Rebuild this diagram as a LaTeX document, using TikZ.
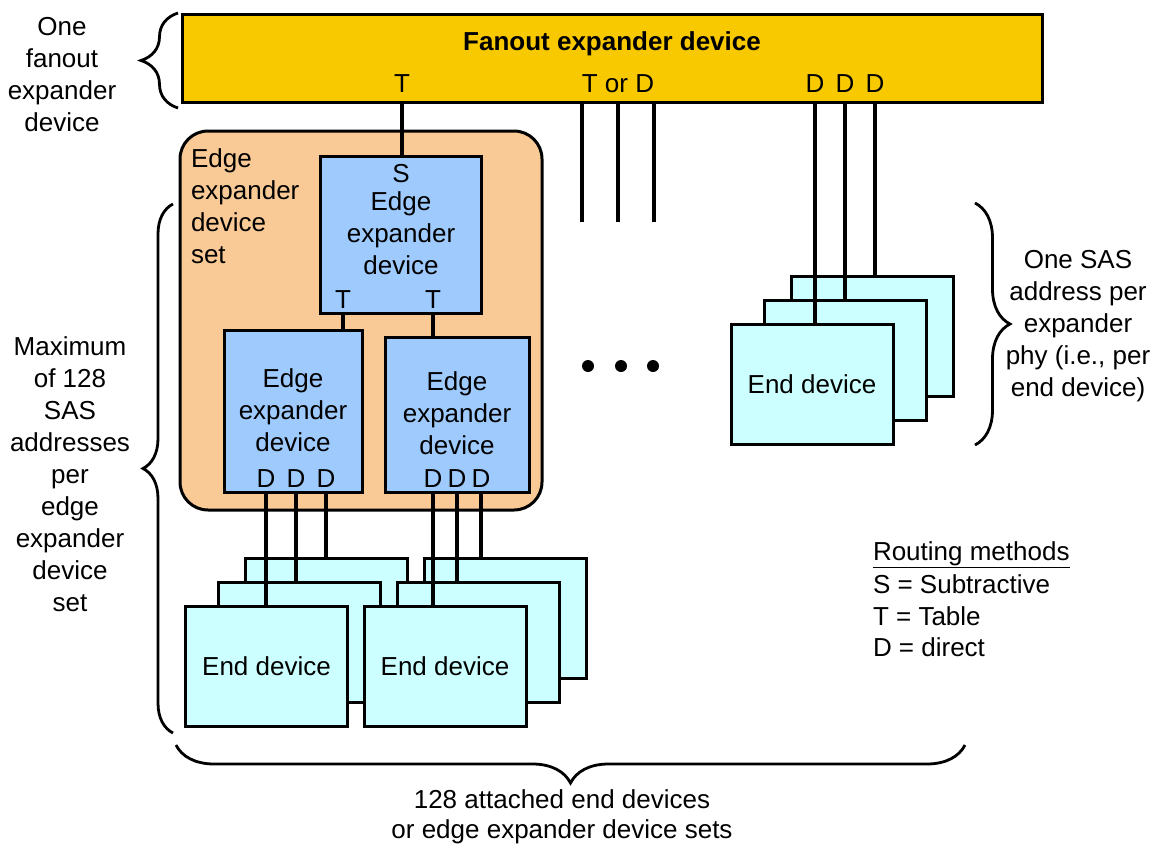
\documentclass[tikz,border=0pt]{standalone}
\usepackage{fontspec}
\setmainfont{Liberation Sans}
\usetikzlibrary{decorations.pathreplacing}
\definecolor{fanoutc}{HTML}{F9C900}
\definecolor{setc}{HTML}{F9CA96}
\definecolor{edgec}{HTML}{9ECAFE}
\definecolor{endc}{HTML}{CCFFFF}
\begin{document}
\begin{tikzpicture}[x=1pt,y=-1pt,
  every node/.style={inner sep=0pt, outer sep=0pt},
  txt/.style={font=\fontsize{26}{32}\selectfont, align=center},
  rect/.style={draw, line width=3pt},
  conn/.style={draw, line width=3.2pt},
  endbox/.style={rect, fill=endc, minimum width=162pt, minimum height=120pt, font=\fontsize{26}{32}\selectfont},
  brc/.style={draw, line width=2.8pt, decorate, decoration={brace, amplitude=#1}}]
\fill[white] (0,0) rectangle (1162,846);
\useasboundingbox (0,0) rectangle (1162,846);

% fanout expander
\node[rect, fill=fanoutc, minimum width=860pt, minimum height=88pt] (fan) at (612,58) {};
\node[txt, font=\fontsize{26}{32}\selectfont\bfseries, anchor=base] (fantitle) at (612,50) {Fanout expander device};
\node[txt, anchor=base] (fT) at (402,92) {T};
\node[txt, anchor=base] (fTD) at (618,92) {T or D};
\node[txt, anchor=base] (fD1) at (815,92) {D};
\node[txt, anchor=base] (fD2) at (845,92) {D};
\node[txt, anchor=base] (fD3) at (875,92) {D};

% edge expander device set
\node[rect, fill=setc, rounded corners=28pt, minimum width=362pt, minimum height=379pt] (set) at (361,320.5) {};
\node[txt, align=left, anchor=north west] (setlbl) at (191,148.4) {Edge\\expander\\device\\set};

\node[rect, fill=edgec, minimum width=161pt, minimum height=157pt] (sbox) at (400.5,234.5) {};
\node[txt, anchor=base] (sS) at (401,182) {S};
\node[txt, anchor=north] (stext) at (401,191.4) {Edge\\expander\\device};
\node[txt, anchor=base] (sT1) at (343,308) {T};
\node[txt, anchor=base] (sT2) at (433,308) {T};

\node[rect, fill=edgec, minimum width=138pt, minimum height=162pt] (lbox) at (293,411) {};
\node[txt, anchor=north] (ltext) at (293,368.4) {Edge\\expander\\device};
\node[txt, anchor=base] (lD1) at (266,487) {D};
\node[txt, anchor=base] (lD2) at (296,487) {D};
\node[txt, anchor=base] (lD3) at (326,487) {D};

\node[rect, fill=edgec, minimum width=144pt, minimum height=155pt] (rbox) at (457,414.5) {};
\node[txt, anchor=north] (rtext) at (457,371.4) {Edge\\expander\\device};
\node[txt, anchor=base] (rD1) at (433,487) {D};
\node[txt, anchor=base] (rD2) at (457,487) {D};
\node[txt, anchor=base] (rD3) at (481,487) {D};

% end device stacks
\node[endbox] (LB) at (326,618) {};
\node[endbox] (LM) at (299,642) {};
\node[endbox] (LF) at (266.5,666) {End device};
\node[endbox] (RB) at (505,618) {};
\node[endbox] (RM) at (478,642) {};
\node[endbox] (RF) at (445,666) {End device};
\node[endbox] (TB) at (872,336.5) {};
\node[endbox] (TM) at (845,360.5) {};
\node[endbox] (TF) at (812,384) {End device};

% connectors
\path[conn] (fT |- fan.south) -- (fT |- sbox.north);
\coordinate (td1) at (582,222);
\coordinate (td2) at (618,222);
\coordinate (td3) at (654,222);
\path[conn] (td1 |- fan.south) -- (td1);
\path[conn] (td2 |- fan.south) -- (td2);
\path[conn] (td3 |- fan.south) -- (td3);
\path[conn] (fD1 |- fan.south) -- (fD1 |- TF.north);
\path[conn] (fD2 |- fan.south) -- (fD2 |- TM.north);
\path[conn] (fD3 |- fan.south) -- (fD3 |- TB.north);
\path[conn] (sT1 |- sbox.south) -- (sT1 |- lbox.north);
\path[conn] (sT2 |- sbox.south) -- (sT2 |- rbox.north);
\path[conn] (lD1 |- lbox.south) -- (lD1 |- LF.north);
\path[conn] (lD2 |- lbox.south) -- (lD2 |- LM.north);
\path[conn] (lD3 |- lbox.south) -- (lD3 |- LB.north);
\path[conn] (rD1 |- rbox.south) -- (rD1 |- RF.north);
\path[conn] (rD2 |- rbox.south) -- (rD2 |- RM.north);
\path[conn] (rD3 |- rbox.south) -- (rD3 |- RB.north);

% dots
\node[circle, fill, minimum size=12pt] (dot1) at (588,366) {};
\node[circle, fill, minimum size=12pt] (dot2) at (621,366) {};
\node[circle, fill, minimum size=12pt] (dot3) at (653,366) {};

% braces and annotations
\path[brc=37pt] (178,108) -- (178,13);
\node[txt, anchor=north] (onefan) at (62,16.9) {One\\fanout\\expander\\device};
\path[brc=30pt] (173,733) -- (173,204);
\node[txt, anchor=north] (maxtxt) at (70,336.4) {Maximum\\of 128\\SAS\\addresses\\per\\edge\\expander\\device\\set};
\path[brc=35pt] (975,203) -- (975,445);
\node[txt, anchor=north] (onesas) at (1078,250.4) {One SAS\\address per\\expander\\phy (i.e., per\\end device)};
\path[brc=38pt] (965,745) -- (176,745);
\node[txt, anchor=north, font=\fontsize{26}{30}\selectfont] (bottxt) at (562,789.4) {128 attached end devices\\or edge expander device sets};

% routing legend
\node[txt, anchor=base west] (rm0) at (873,560) {\underline{Routing methods}};
\node[txt, anchor=base west] (rm1) at (873,593) {S = Subtractive};
\node[txt, anchor=base west] (rm2) at (873,625) {T = Table};
\node[txt, anchor=base west] (rm3) at (873,656) {D = direct};
\end{tikzpicture}
\end{document}
